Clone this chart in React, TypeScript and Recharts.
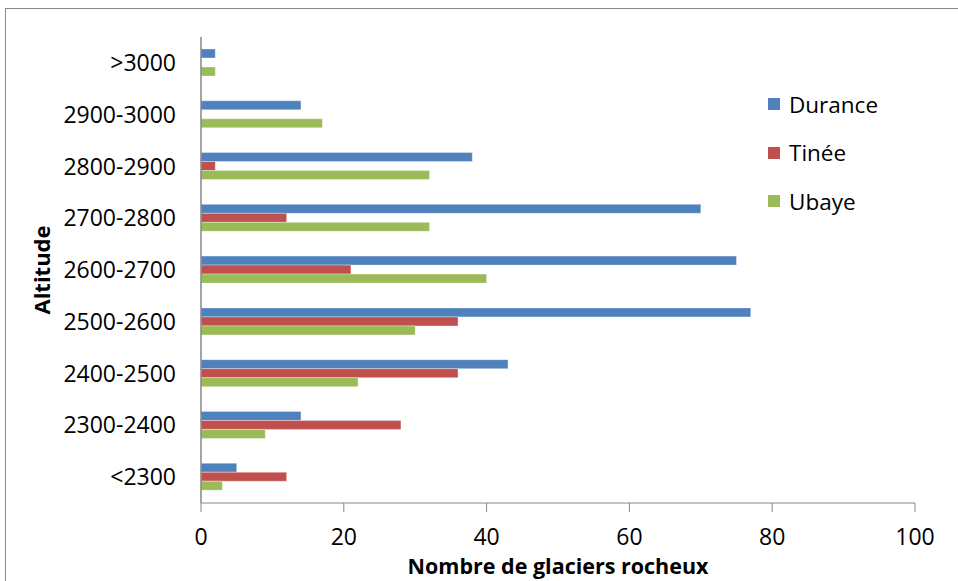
import React from 'react';
import { BarChart, Bar, XAxis, YAxis, Legend, Label } from 'recharts';

const categories = ['>3000', '2900-3000', '2800-2900', '2700-2800', '2600-2700', '2500-2600', '2400-2500', '2300-2400', '<2300'];
const durance = [2, 14, 38, 70, 75, 77, 43, 14, 5];
const tinee = [0, 0, 2, 12, 21, 36, 36, 28, 12];
const ubaye = [2, 17, 32, 32, 40, 30, 22, 9, 3];
const xTicks = [0, 20, 40, 60, 80, 100];

const data = categories.map((c, i) => ({ cat: c, Durance: durance[i], 'Tinée': tinee[i], Ubaye: ubaye[i] }));

const FONT = '"Open Sans", sans-serif';

const renderLegend = (props: any) => {
  const { payload } = props;
  return (
    <div style={{ fontFamily: FONT }}>
      {payload.map((p: any) => (
        <div key={p.value} style={{ display: 'flex', alignItems: 'center', height: 48.5 }}>
          <div style={{ width: 12, height: 12, background: p.color, marginRight: 9 }} />
          <span style={{ fontSize: 22.5, color: '#000' }}>{p.value}</span>
        </div>
      ))}
    </div>
  );
};

const AltitudeLabel = (props: any) => {
  const { viewBox } = props;
  const x = viewBox.x + 41;
  const y = viewBox.y + viewBox.height / 2;
  return (
    <text x={x} y={y} transform={`rotate(-90, ${x}, ${y})`} textAnchor="middle" dominantBaseline="central"
      fontFamily={FONT} fontWeight="bold" fontSize={22} fill="#000">Altitude</text>
  );
};

export default function App() {
  return (
    <div style={{ position: 'absolute', left: 0, top: 0, width: 958, height: 581, overflow: 'hidden', background: '#fff' }}>
      <div style={{ position: 'absolute', left: 5, top: 8, width: 1000, height: 1000, border: '1px solid #8a8a8a' }} />
      <div style={{ position: 'absolute', left: 0, top: 0 }}>
        <BarChart width={958} height={581} data={data} layout="vertical" barGap={0}
          margin={{ top: 37, right: 43, bottom: 0, left: 0 }}>
          <XAxis type="number" domain={[0, 100]} ticks={xTicks} height={78}
            axisLine={{ stroke: '#868686' }} tickLine={{ stroke: '#868686' }} tickSize={9} tickMargin={17}
            tick={{ fontFamily: FONT, fontSize: 23, fill: '#000' }}>
            <Label value="Nombre de glaciers rocheux" position="insideBottom" offset={7}
              style={{ fontFamily: FONT, fontWeight: 'bold', fontSize: 21.5, fill: '#000' }} />
          </XAxis>
          <YAxis type="category" dataKey="cat" width={201} axisLine={{ stroke: '#868686', strokeWidth: 1.5 }}
            tickLine={false} tickSize={0} tickMargin={25}
            tick={{ fontFamily: FONT, fontSize: 23, fill: '#000' }}>
            <Label content={<AltitudeLabel />} />
          </YAxis>
          <Legend content={renderLegend} layout="horizontal" verticalAlign="middle" align="center"
            wrapperStyle={{ left: 768, top: 80, width: 180 }} />
          <Bar dataKey="Durance" fill="#4F81BD" barSize={9} stroke="#ffffff" strokeOpacity={0.35} isAnimationActive={false} />
          <Bar dataKey="Tinée" fill="#C0504D" barSize={9} stroke="#ffffff" strokeOpacity={0.35} isAnimationActive={false} />
          <Bar dataKey="Ubaye" fill="#9BBB59" barSize={9} stroke="#ffffff" strokeOpacity={0.35} isAnimationActive={false} />
        </BarChart>
      </div>
    </div>
  );
}
